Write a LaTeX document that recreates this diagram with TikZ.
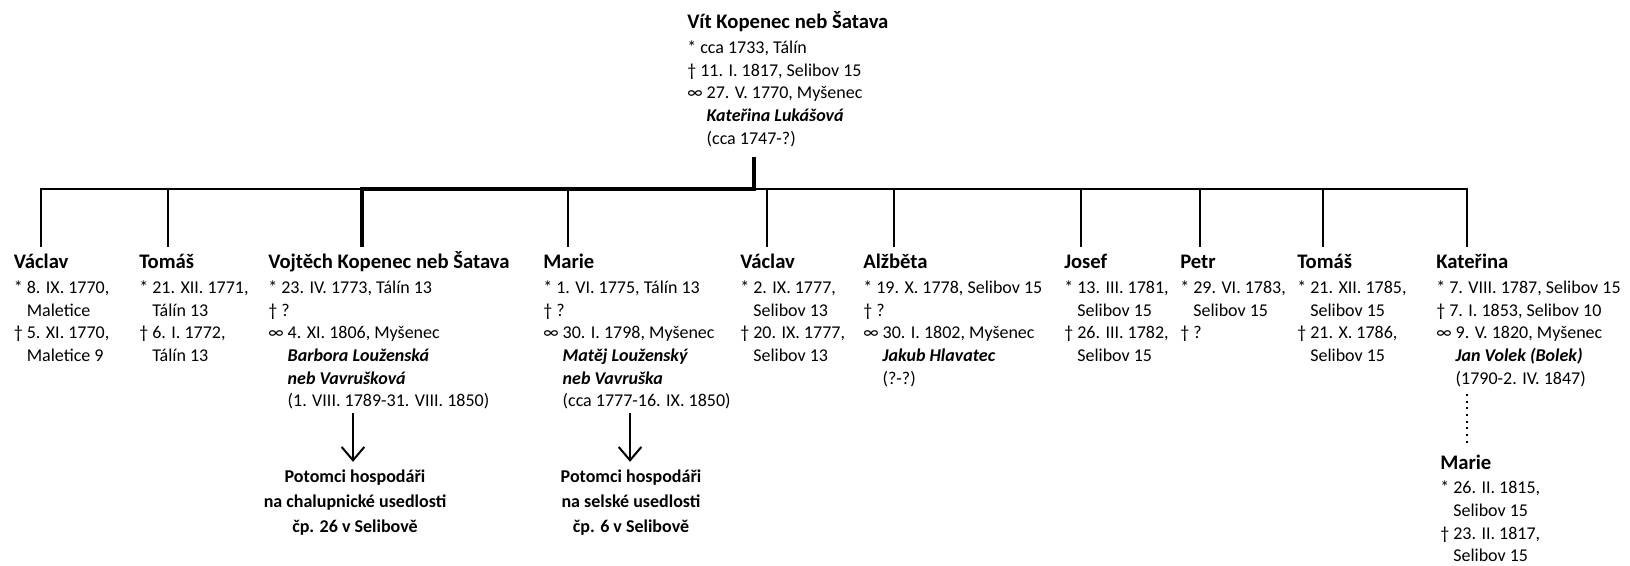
\documentclass[tikz,border=0pt]{standalone}
\usepackage{fontspec}
\setmainfont{Carlito}
\usetikzlibrary{arrows.meta}
\newcommand{\odsaz}{\phantom{* }}
\newcommand{\odsazm}{\phantom{∞ }}
\newcommand{\jmeno}[1]{{\fontsize{15.5pt}{18pt}\selectfont\bfseries\strut #1}}
\newcommand{\manzel}[1]{\textbf{\textit{#1}}}

\begin{document}
\begin{tikzpicture}[x=0.75pt, y=-0.75pt,
	osoba/.style={anchor=north west, align=left, inner sep=0pt, font=\fontsize{13.5pt}{17pt}\selectfont},
	potomci/.style={anchor=north, align=center, inner sep=0pt, font=\fontsize{13.5pt}{18.75pt}\selectfont\bfseries},
	linka/.style={line width=1pt},
	tlusta/.style={line width=2.4pt, line join=miter},
	sipka/.style={line width=1.5pt, -{Straight Barb[length=10pt, width=17pt, line width=1.5pt]}},
	tecky/.style={line width=1.6pt, dash pattern=on 1.6pt off 3.4pt}]
	\useasboundingbox (0, 0) rectangle (1630, 565);
	% Persons:
	\node[osoba] (vit) at (687, 11.7){\jmeno{Vít Kopenec neb Šatava}\\[1.5pt] * cca 1733, Tálín\\ † 11. I. 1817, Selibov 15\\ ∞ 27. V. 1770, Myšenec\\ \odsazm\manzel{Kateřina Lukášová}\\ \odsazm (cca 1747-?)};
	\node[osoba] (vaclavA) at (13.5, 251.7){\jmeno{Václav}\\[1.5pt] * 8. IX. 1770,\\ \odsaz Maletice\\ † 5. XI. 1770,\\ \odsaz Maletice 9};
	\node[osoba] (tomasA) at (139, 251.7){\jmeno{Tomáš}\\[1.5pt] * 21. XII. 1771,\\ \odsaz Tálín 13\\ † 6. I. 1772,\\ \odsaz Tálín 13};
	\node[osoba] (vojtech) at (268, 251.7){\jmeno{Vojtěch Kopenec neb Šatava}\\[1.5pt] * 23. IV. 1773, Tálín 13\\ † ?\\ ∞ 4. XI. 1806, Myšenec\\ \odsazm\manzel{Barbora Louženská}\\ \odsazm\manzel{neb Vavrušková}\\ \odsazm (1. VIII. 1789-31. VIII. 1850)};
	\node[osoba] (marieA) at (543, 251.7){\jmeno{Marie}\\[1.5pt] * 1. VI. 1775, Tálín 13\\ † ?\\ ∞ 30. I. 1798, Myšenec\\ \odsazm\manzel{Matěj Louženský}\\ \odsazm\manzel{neb Vavruška}\\ \odsazm (cca 1777-16. IX. 1850)};
	\node[osoba] (vaclavB) at (740, 251.7){\jmeno{Václav}\\[1.5pt] * 2. IX. 1777,\\ \odsaz Selibov 13\\ † 20. IX. 1777,\\ \odsaz Selibov 13};
	\node[osoba] (alzbeta) at (863, 251.7){\jmeno{Alžběta}\\[1.5pt] * 19. X. 1778, Selibov 15\\ † ?\\ ∞ 30. I. 1802, Myšenec\\ \odsazm\manzel{Jakub Hlavatec}\\ \odsazm (?-?)};
	\node[osoba] (josef) at (1064, 251.7){\jmeno{Josef}\\[1.5pt] * 13. III. 1781,\\ \odsaz Selibov 15\\ † 26. III. 1782,\\ \odsaz Selibov 15};
	\node[osoba] (petr) at (1180, 251.7){\jmeno{Petr}\\[1.5pt] * 29. VI. 1783,\\ \odsaz Selibov 15\\ † ?};
	\node[osoba] (tomasB) at (1297, 251.7){\jmeno{Tomáš}\\[1.5pt] * 21. XII. 1785,\\ \odsaz Selibov 15\\ † 21. X. 1786,\\ \odsaz Selibov 15};
	\node[osoba] (katerina) at (1436, 251.7){\jmeno{Kateřina}\\[1.5pt] * 7. VIII. 1787, Selibov 15\\ † 7. I. 1853, Selibov 10\\ ∞ 9. V. 1820, Myšenec\\ \odsazm\manzel{Jan Volek (Bolek)}\\ \odsazm (1790-2. IV. 1847)};
	\node[osoba] (marieB) at (1440, 452){\jmeno{Marie}\\[1.5pt] * 26. II. 1815,\\ \odsaz Selibov 15\\ † 23. II. 1817,\\ \odsaz Selibov 15};
	\node[potomci] (potomciA) at (355, 464.5){\strut Potomci hospodáři\\ na chalupnické usedlosti\\ čp. 26 v Selibově};
	\node[potomci] (potomciB) at (631, 464.5){\strut Potomci hospodáři\\ na selské usedlosti\\ čp. 6 v Selibově};
	% Tree lines:
	\coordinate (vitpata) at (754, 157);
	\coordinate (sbernice) at (754, 189);
	\coordinate (dVaclavA) at (41, 247);
	\coordinate (dTomasA) at (168, 247);
	\coordinate (dVojtech) at (362, 247);
	\coordinate (dMarieA) at (568, 247);
	\coordinate (dVaclavB) at (767, 247);
	\coordinate (dAlzbeta) at (894, 247);
	\coordinate (dJosef) at (1081, 247);
	\coordinate (dPetr) at (1200, 247);
	\coordinate (dTomasB) at (1323, 247);
	\coordinate (dKaterina) at (1467, 247);
	\draw[linka] (dVaclavA) |- (dKaterina |- sbernice) -- (dKaterina);
	\draw[linka] (dTomasA |- sbernice) -- (dTomasA);
	\draw[linka] (dMarieA |- sbernice) -- (dMarieA);
	\draw[linka] (dVaclavB |- sbernice) -- (dVaclavB);
	\draw[linka] (dAlzbeta |- sbernice) -- (dAlzbeta);
	\draw[linka] (dJosef |- sbernice) -- (dJosef);
	\draw[linka] (dPetr |- sbernice) -- (dPetr);
	\draw[linka] (dTomasB |- sbernice) -- (dTomasB);
	\draw[tlusta] (vitpata) -- (sbernice) -| (dVojtech);
	% Descendants:
	\coordinate (sipA) at (353, 413);
	\coordinate (sipB) at (630, 413);
	\coordinate (dKaterinaB) at (1467, 394);
	\draw[sipka, shorten >=2pt] (sipA) -- (sipA |- potomciA.north);
	\draw[sipka, shorten >=2pt] (sipB) -- (sipB |- potomciB.north);
	\draw[tecky, shorten >=4pt] (dKaterinaB) -- (dKaterinaB |- marieB.north);
\end{tikzpicture}
\end{document}
